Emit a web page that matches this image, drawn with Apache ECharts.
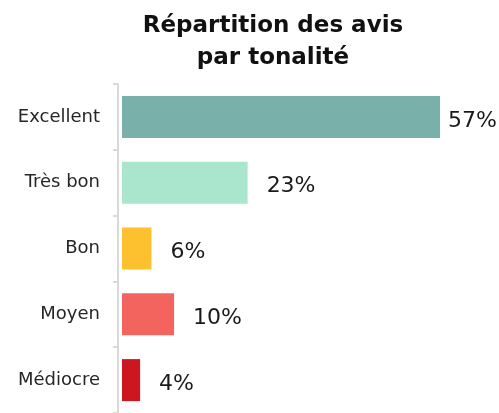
<!DOCTYPE html>
<html>
<head>
<meta charset="utf-8">
<script src="https://cdn.jsdelivr.net/npm/echarts@6/dist/echarts.min.js"></script>
<style>
  html, body { margin: 0; padding: 0; background: #fff; }
  #chart { width: 499px; height: 413px; }
</style>
</head>
<body>
<div id="chart"></div>
<script>
// données
var categories = ['Excellent', 'Très bon', 'Bon', 'Moyen', 'Médiocre']
var values = [57, 23, 6, 10, 4]
var colors = ['#79b1aa', '#aae6cd', '#fdc02f', '#f2645d', '#cd1720']

var chart = echarts.init(document.getElementById('chart'))

var seriesData = values.map(function (v, i) {
  var item = { value: v, itemStyle: { color: colors[i] } }
  // le plus grand libellé est resserré contre la barre
  if (i === 0) item.label = { distance: 8 }
  return item
})

var option = {
  animation: false,
  title: {
    text: 'Répartition des avis\npar tonalité',
    left: 268,
    top: 5,
    textAlign: 'center',
    textStyle: {
      fontFamily: 'DejaVu Sans',
      fontWeight: 'bold',
      fontSize: 23,
      lineHeight: 32,
      color: '#111'
    }
  },
  grid: {
    left: 122,
    top: 84,
    width: 335,
    height: 331
  },
  xAxis: {
    type: 'value',
    min: 0.8,
    max: 60,
    show: false
  },
  yAxis: {
    type: 'category',
    data: categories,
    inverse: true,
    offset: 4,
    axisLine: { show: true, lineStyle: { color: '#d9d9d9', width: 2 } },
    axisTick: { show: true, length: 5, lineStyle: { color: '#d9d9d9', width: 2 } },
    axisLabel: {
      margin: 18,
      fontFamily: 'DejaVu Sans',
      fontSize: 18,
      color: '#262626'
    }
  },
  series: [
    {
      type: 'bar',
      data: seriesData,
      barWidth: 42,
      label: {
        show: true,
        position: 'right',
        distance: 19,
        offset: [0, 4],
        formatter: '{c}%',
        fontFamily: 'DejaVu Sans',
        fontSize: 22,
        color: '#1a1a1a'
      }
    }
  ]
}

option && chart.setOption(option)
</script>
</body>
</html>
